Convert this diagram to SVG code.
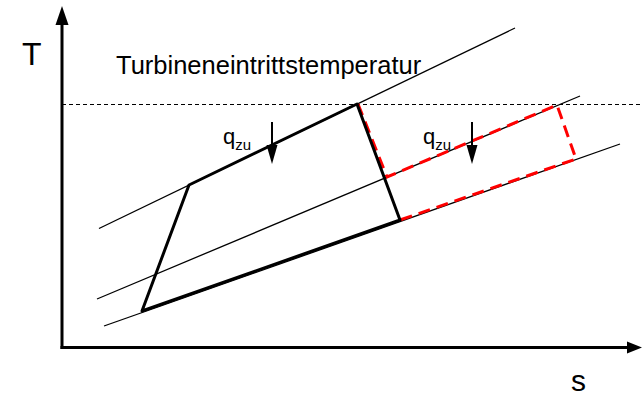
<svg xmlns="http://www.w3.org/2000/svg" width="642" height="398" viewBox="0 0 642 398">
<style>
.thin{stroke:#000;stroke-width:1.3;fill:none}
.thick{stroke:#000;stroke-width:3;fill:none;stroke-linejoin:round}
.red{stroke:#ff0000;stroke-width:3;fill:none;stroke-dasharray:12 7}
.axis{stroke:#000;stroke-width:3;fill:none}
text{font-family:"Liberation Sans",Arial,sans-serif;fill:#000}
</style>
<rect width="642" height="398" fill="#fff"/>
<g id="axes">
<line class="axis" x1="62" y1="349" x2="62" y2="22"/>
<polygon points="62,6 55.5,25 68.5,25" fill="#000"/>
<line class="axis" x1="60.5" y1="347.5" x2="630" y2="347.5"/>
<polygon points="642,347.5 627,341.5 627,353.5" fill="#000"/>
<text x="22" y="65" font-size="32">T</text>
<text x="571" y="391" font-size="30">s</text>
</g>
<g id="isobars">
<line class="thin" x1="99" y1="228.5" x2="515" y2="28"/>
<line class="thin" x1="97" y1="299" x2="580" y2="96"/>
<line class="thin" x1="104" y1="326" x2="620" y2="144"/>
</g>
<g id="tit">
<line x1="62" y1="104.5" x2="642" y2="104.5" stroke="#000" stroke-width="1" stroke-dasharray="4 3"/>
<text x="116" y="74" font-size="25.5">Turbineneintrittstemperatur</text>
</g>
<g id="cycle-red">
<polyline class="red" points="358,104 387,177 557,105 576,159 400,220"/>
</g>
<g id="cycle">
<polygon class="thick" points="142,311 189,185 357,104 400,220"/>
</g>
<g id="qzu1">
<line x1="272" y1="122" x2="272" y2="148" stroke="#000" stroke-width="2"/>
<polygon points="272,164 266.5,145 277.5,145" fill="#000"/>
<text x="223" y="144" font-size="22">q<tspan font-size="15" dy="6">zu</tspan></text>
</g>
<g id="qzu2">
<line x1="472" y1="122" x2="472" y2="148" stroke="#000" stroke-width="2"/>
<polygon points="472,164 466.5,145 477.5,145" fill="#000"/>
<text x="423" y="144" font-size="22">q<tspan font-size="15" dy="6">zu</tspan></text>
</g>
</svg>
